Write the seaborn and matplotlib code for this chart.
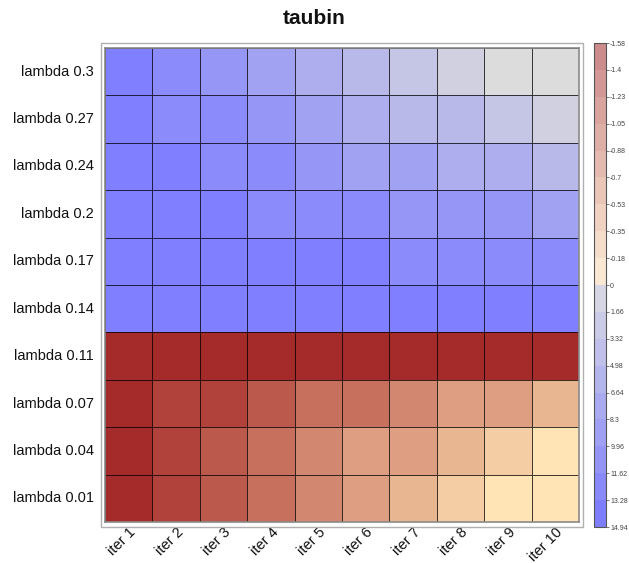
import numpy as np
import pandas as pd
import matplotlib
matplotlib.use("Agg")
import matplotlib.pyplot as plt
from matplotlib.colors import ListedColormap, BoundaryNorm, to_rgb
from matplotlib.cm import ScalarMappable
from matplotlib.patches import Rectangle
import seaborn as sns

# ---- data ----
iterations = ["iter 1", "iter 2", "iter 3", "iter 4", "iter 5",
              "iter 6", "iter 7", "iter 8", "iter 9", "iter 10"]
lambdas = ["lambda 0.3", "lambda 0.27", "lambda 0.24", "lambda 0.2", "lambda 0.17",
           "lambda 0.14", "lambda 0.11", "lambda 0.07", "lambda 0.04", "lambda 0.01"]

lambda_030 = [14.94, 12.9, 11.2, 9.4, 7.6, 5.9, 4.2, 2.5, 0.9, 0.4]
lambda_027 = [14.6, 12.8, 12.1, 10.6, 9.1, 7.4, 5.8, 5.2, 3.9, 2.4]
lambda_024 = [14.3, 13.9, 12.7, 12.0, 10.8, 9.6, 9.0, 7.9, 7.1, 6.2]
lambda_020 = [14.1, 13.8, 14.2, 12.9, 12.4, 12.6, 11.1, 10.7, 11.4, 9.7]
lambda_017 = [14.5, 14.4, 14.3, 14.1, 14.0, 13.9, 13.1, 12.8, 12.6, 12.3]
lambda_014 = [14.8, 14.7, 14.7, 14.6, 14.5, 14.5, 14.4, 14.3, 14.2, 14.1]
lambda_011 = [-1.58, -1.57, -1.56, -1.55, -1.53, -1.52, -1.50, -1.48, -1.46, -1.44]
lambda_007 = [-1.49, -1.33, -1.26, -1.12, -0.98, -0.92, -0.79, -0.63, -0.57, -0.42]
lambda_004 = [-1.45, -1.30, -1.15, -0.96, -0.80, -0.66, -0.55, -0.44, -0.27, -0.12]
lambda_001 = [-1.42, -1.28, -1.11, -0.94, -0.76, -0.61, -0.45, -0.30, -0.15, -0.08]

vmin, vmax = -1.58, 14.94
n_bins = 9

df = pd.DataFrame([lambda_030, lambda_027, lambda_024, lambda_020, lambda_017,
                   lambda_014, lambda_011, lambda_007, lambda_004, lambda_001],
                  index=lambdas, columns=iterations)

# ---- colour scale: two 9-step ramps meeting at zero ----
bounds = np.concatenate([np.linspace(vmin, 0, n_bins + 1),
                         np.linspace(0, vmax, n_bins + 1)[1:]])


def ramp(c0, c1, n):
    a, b = np.array(to_rgb(c0)), np.array(to_rgb(c1))
    return [tuple(a + (b - a) * t) for t in np.linspace(0, 1, n)]


cell_colors = ramp("#A52A2A", "#FFE4B5", n_bins) + ramp("#DCDCDC", "#7F7FFF", n_bins)
bar_colors = ramp("#CD8C8C", "#FBE8D4", n_bins) + ramp("#D6D6E4", "#7E7EFC", n_bins)
norm = BoundaryNorm(bounds, len(cell_colors))
cell_cmap = ListedColormap(cell_colors)
bar_cmap = ListedColormap(bar_colors)

# ---- figure ----
sns.set_theme(style="white")
plt.rcParams["font.family"] = ["Liberation Sans", "DejaVu Sans"]

W, H = 629, 563
fig = plt.figure(figsize=(W / 100, H / 100), dpi=100)
ax = fig.add_axes([105 / W, 1 - 522 / H, 474 / W, 474 / H])
cax = fig.add_axes([594 / W, 1 - 527 / H, 12 / W, 484 / H])

sns.heatmap(df, ax=ax, cmap=cell_cmap, norm=norm, cbar=False,
            linewidths=0.7, linecolor=(0, 0, 0, 0.75), square=False)

for s in ax.spines.values():
    s.set_visible(True)
    s.set_color("#8a8a8a")
    s.set_linewidth(1.2)

ax.set_xlabel("")
ax.set_ylabel("")
ax.tick_params(axis="both", length=0, colors="#111111")
ax.tick_params(axis="y", pad=8, labelsize=10.5, labelrotation=0)
ax.tick_params(axis="x", pad=2, labelsize=10.5)
for lab in ax.get_xticklabels():
    lab.set_rotation(45)
    lab.set_ha("right")
    lab.set_rotation_mode("anchor")

# outer frame around the grid
fig.add_artist(Rectangle((101 / W, 1 - 527 / H), 482 / W, 484 / H,
                         transform=fig.transFigure, fill=False,
                         edgecolor="#b0b0b0", linewidth=1.0))

# colour bar, most negative value on top
sm = ScalarMappable(norm=norm, cmap=bar_cmap)
cb = fig.colorbar(sm, cax=cax, ticks=bounds, spacing="uniform")
cb.ax.invert_yaxis()
cb.set_ticklabels([f"{round(b, 2):g}" for b in bounds])
cb.outline.set_edgecolor("#555555")
cb.outline.set_linewidth(0.8)
cb.ax.tick_params(labelsize=5, length=2, width=0.5, pad=1, colors="#444444")

fig.text(0.5, 1 - 18 / H, "taubin", ha="center", va="center",
         fontsize=15, fontweight="bold", color="#111111")

fig.savefig("out.png", dpi=100)
